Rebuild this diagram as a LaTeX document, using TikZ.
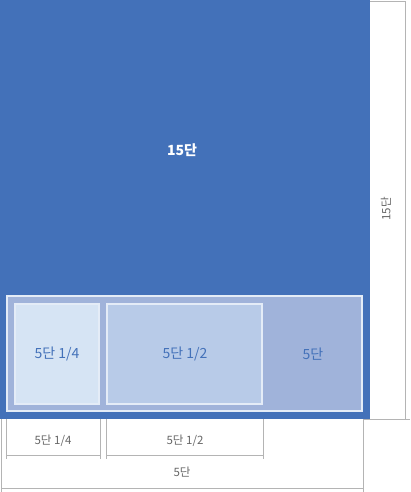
\documentclass[tikz,border=0pt]{standalone}
\usepackage{fontspec}
\setmainfont{Noto Sans CJK KR}
\definecolor{mainblue}{HTML}{4371B9}
\definecolor{midblue}{HTML}{A0B3DA}
\definecolor{lightblue}{HTML}{D6E4F4}
\definecolor{halfblue}{HTML}{B8CBE8}
\definecolor{edgewhite}{HTML}{E4ECF7}
\definecolor{dimgray}{HTML}{B4B4B4}
\definecolor{dimtext}{HTML}{666666}
\tikzset{
  box/.style={draw=edgewhite, line width=2pt, inner sep=0pt},
  dimline/.style={draw=dimgray, line width=0.9pt},
  blabel/.style={text=mainblue, font=\fontsize{14pt}{16pt}\selectfont},
  dlabel/.style={text=dimtext, font=\fontsize{11.5pt}{13pt}\selectfont},
}
\begin{document}
\begin{tikzpicture}[x=1pt,y=-1pt]
\useasboundingbox (0,0) rectangle (410,492);
% main block
\fill[mainblue] (0,0) rectangle (370,419);
\node[text=white, font=\fontsize{14pt}{16pt}\selectfont\bfseries] (t15) at (182,150) {15단};
% 5 dan area
\filldraw[box, fill=midblue] (7,296) rectangle (362,411);
\filldraw[box, fill=lightblue] (15,304) rectangle (99,404);
\filldraw[box, fill=halfblue] (107,304) rectangle (262,404);
\node[blabel] (q) at (57,354) {5단 1/4};
\node[blabel] (h) at (185,354) {5단 1/2};
\node[blabel] (f) at (313,354) {5단};
% right dimension (15 dan)
\coordinate (r1) at (370,1);
\coordinate (r2) at (405,1);
\coordinate (r3) at (405,419);
\coordinate (r4) at (410,419);
\coordinate (r5) at (363,419);
\draw[dimline] (r1) -- (r2) -- (r3);
\draw[dimline] (r5) -- (r4);
\node[dlabel, rotate=90] (d15) at (386,209) {15단};
% bottom dimensions
\coordinate (a1) at (6,419);   \coordinate (a2) at (6,459);
\coordinate (b1) at (100,419); \coordinate (b2) at (100,459);
\coordinate (c1) at (106,419); \coordinate (c2) at (106,459);
\coordinate (e1) at (263,419); \coordinate (e2) at (263,459);
\draw[dimline] (a1) -- (a2);
\draw[dimline] (b1) -- (b2);
\draw[dimline] (c1) -- (c2);
\draw[dimline] (e1) -- (e2);
\draw[dimline] (6,455) -- (100,455);
\draw[dimline] (106,455) -- (263,455);
\node[dlabel] (dq) at (53,441) {5단 1/4};
\node[dlabel] (dh) at (185,441) {5단 1/2};
\coordinate (g1) at (1,419); \coordinate (g2) at (1,492);
\coordinate (k1) at (363,419); \coordinate (k2) at (363,492);
\draw[dimline] (g1) -- (g2);
\draw[dimline] (k1) -- (k2);
\draw[dimline] (1,488) -- (363,488);
\node[dlabel] (df) at (182,472) {5단};
\end{tikzpicture}
\end{document}
